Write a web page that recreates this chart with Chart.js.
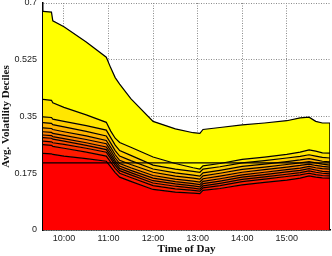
<!DOCTYPE html>
<html>
<head>
<meta charset="utf-8">
<script src="https://cdn.jsdelivr.net/npm/chart.js@4/dist/chart.umd.min.js"></script>
<style>
  html, body { margin: 0; padding: 0; background: #fff; }
  #wrap { width: 332px; height: 256px; }
</style>
</head>
<body>
<div id="wrap"><canvas id="chart" width="332" height="256"></canvas></div>
<script>
// --- DATA (hours of day, decile levels) ---
const times = [9.53, 9.72, 9.75, 10.0, 10.5, 10.95, 11.05, 11.15, 11.25, 11.5, 12.0, 12.5, 12.9, 13.05, 13.12, 13.5, 14.0, 14.5, 15.0, 15.3, 15.5, 15.65, 15.8, 15.97];

const decTop = [.674,.672,.645,.627,.580,.533,.500,.470,.450,.405,.335,.312,.300,.298,.310,.316,.324,.330,.337,.346,.348,.335,.330,.330];
const dec9 = [.403,.400,.392,.378,.355,.332,.305,.283,.270,.255,.225,.205,.192,.188,.198,.205,.218,.225,.233,.240,.247,.243,.238,.237];
const dec8 = [.349,.347,.342,.335,.322,.308,.285,.262,.245,.230,.200,.188,.181,.178,.188,.195,.207,.214,.222,.227,.232,.228,.224,.222];
const dec7 = [.331,.329,.325,.318,.304,.290,.268,.245,.228,.214,.188,.176,.169,.166,.176,.184,.196,.203,.211,.216,.220,.216,.212,.210];
const dec6 = [.315,.313,.310,.303,.290,.276,.255,.232,.215,.202,.178,.166,.160,.157,.167,.175,.187,.194,.202,.207,.211,.207,.203,.200];
const dec5 = [.303,.301,.298,.292,.279,.266,.245,.222,.205,.192,.168,.157,.151,.148,.158,.166,.178,.186,.194,.199,.203,.199,.196,.194];
const dec4 = [.293,.291,.288,.282,.269,.256,.236,.213,.197,.184,.160,.149,.143,.140,.150,.158,.170,.178,.186,.191,.196,.192,.189,.188];
const dec3 = [.285,.283,.280,.274,.261,.248,.228,.206,.190,.177,.152,.142,.136,.133,.143,.151,.163,.171,.179,.184,.189,.185,.181,.179];
const dec2 = [.274,.272,.269,.264,.252,.240,.220,.199,.183,.170,.145,.135,.129,.126,.136,.144,.156,.164,.172,.177,.182,.178,.175,.173];
const dec1 = [.263,.261,.258,.252,.240,.228,.209,.190,.175,.162,.137,.127,.122,.120,.130,.137,.149,.157,.165,.170,.175,.171,.168,.167];
const dec0 = [.236,.235,.233,.228,.220,.212,.195,.177,.163,.150,.125,.117,.114,.112,.122,.128,.139,.147,.154,.160,.167,.163,.161,.160];

const refLevel = 0.207;

const xTicks = [10, 11, 12, 13, 14, 15];
const xTickLabels = ['10:00', '11:00', '12:00', '13:00', '14:00', '15:00'];
const yTicks = [0, 0.175, 0.35, 0.525, 0.7];
const yTickLabels = ['0', '0.175', '0.35', '0.525', '0.7'];

// bottom to top, each band filled down to the one below it
const levels = [dec0, dec1, dec2, dec3, dec4, dec5, dec6, dec7, dec8, dec9, decTop];

// autumn colormap: red at the bottom, yellow on top
function bandColor(i) {
    const g = Math.round(255 * i / (levels.length - 1));
    return `rgb(255,${g},0)`;
}

const datasets = levels.map((vals, i) => ({
    data: times.map((t, k) => ({ x: t, y: vals[k] })),
    borderColor: '#000',
    borderWidth: 1.2,
    backgroundColor: bandColor(i),
    fill: i === 0 ? 'origin' : '-1',
    pointRadius: 0,
    tension: 0
}));

// horizontal reference level
datasets.push({
    data: [{ x: times[0], y: refLevel }, { x: times[times.length - 1], y: refLevel }],
    borderColor: '#000',
    borderWidth: 1.2,
    fill: false,
    pointRadius: 0,
    order: -1
});

// right edge of the stacked area
datasets.push({
    data: [{ x: times[times.length - 1], y: 0 }, { x: times[times.length - 1], y: decTop[decTop.length - 1] }],
    borderColor: '#000',
    borderWidth: 1.5,
    fill: false,
    pointRadius: 0,
    order: -1
});

const tickFont = { family: 'Liberation Sans', size: 9 };
const titleFont = { family: 'Liberation Serif', size: 11, weight: 'bold' };

new Chart(document.getElementById('chart'), {
    type: 'line',
    data: { datasets },
    options: {
        responsive: false,
        animation: false,
        layout: { padding: { left: 0, right: 2, top: 3, bottom: 0 } },
        plugins: {
            legend: { display: false },
            tooltip: { enabled: false },
            filler: { drawTime: 'beforeDatasetsDraw' }
        },
        scales: {
            x: {
                type: 'linear',
                min: times[0],
                max: times[times.length - 1],
                z: 1,
                afterBuildTicks: s => { s.ticks = xTicks.map(v => ({ value: v })); },
                afterFit: s => { s.height = 26; s.paddingLeft = 0; s.paddingRight = 0; },
                ticks: {
                    font: tickFont,
                    color: '#222',
                    padding: 3,
                    maxRotation: 0,
                    callback: (v) => xTickLabels[xTicks.indexOf(v)]
                },
                grid: { color: '#8a8a8a', drawTicks: false },
                border: { color: '#000', width: 1.5, dash: [1, 1.5] },
                title: { display: true, text: 'Time of Day', font: titleFont, color: '#111', padding: { top: 0, bottom: 0 } }
            },
            y: {
                type: 'linear',
                min: 0,
                max: 0.7,
                z: 1,
                afterBuildTicks: s => { s.ticks = yTicks.map(v => ({ value: v })); },
                afterFit: s => { s.width = 43; s.paddingTop = 0; s.paddingBottom = 0; },
                ticks: {
                    font: tickFont,
                    color: '#222',
                    padding: 6,
                    callback: (v) => yTickLabels[yTicks.indexOf(v)]
                },
                grid: { color: '#8a8a8a', drawTicks: false },
                border: { color: '#000', width: 1.5, dash: [1, 1.5] },
                title: { display: true, text: 'Avg. Volatility Deciles', font: titleFont, color: '#111', padding: { top: 0, bottom: 0 } }
            }
        }
    }
});
</script>
</body>
</html>
